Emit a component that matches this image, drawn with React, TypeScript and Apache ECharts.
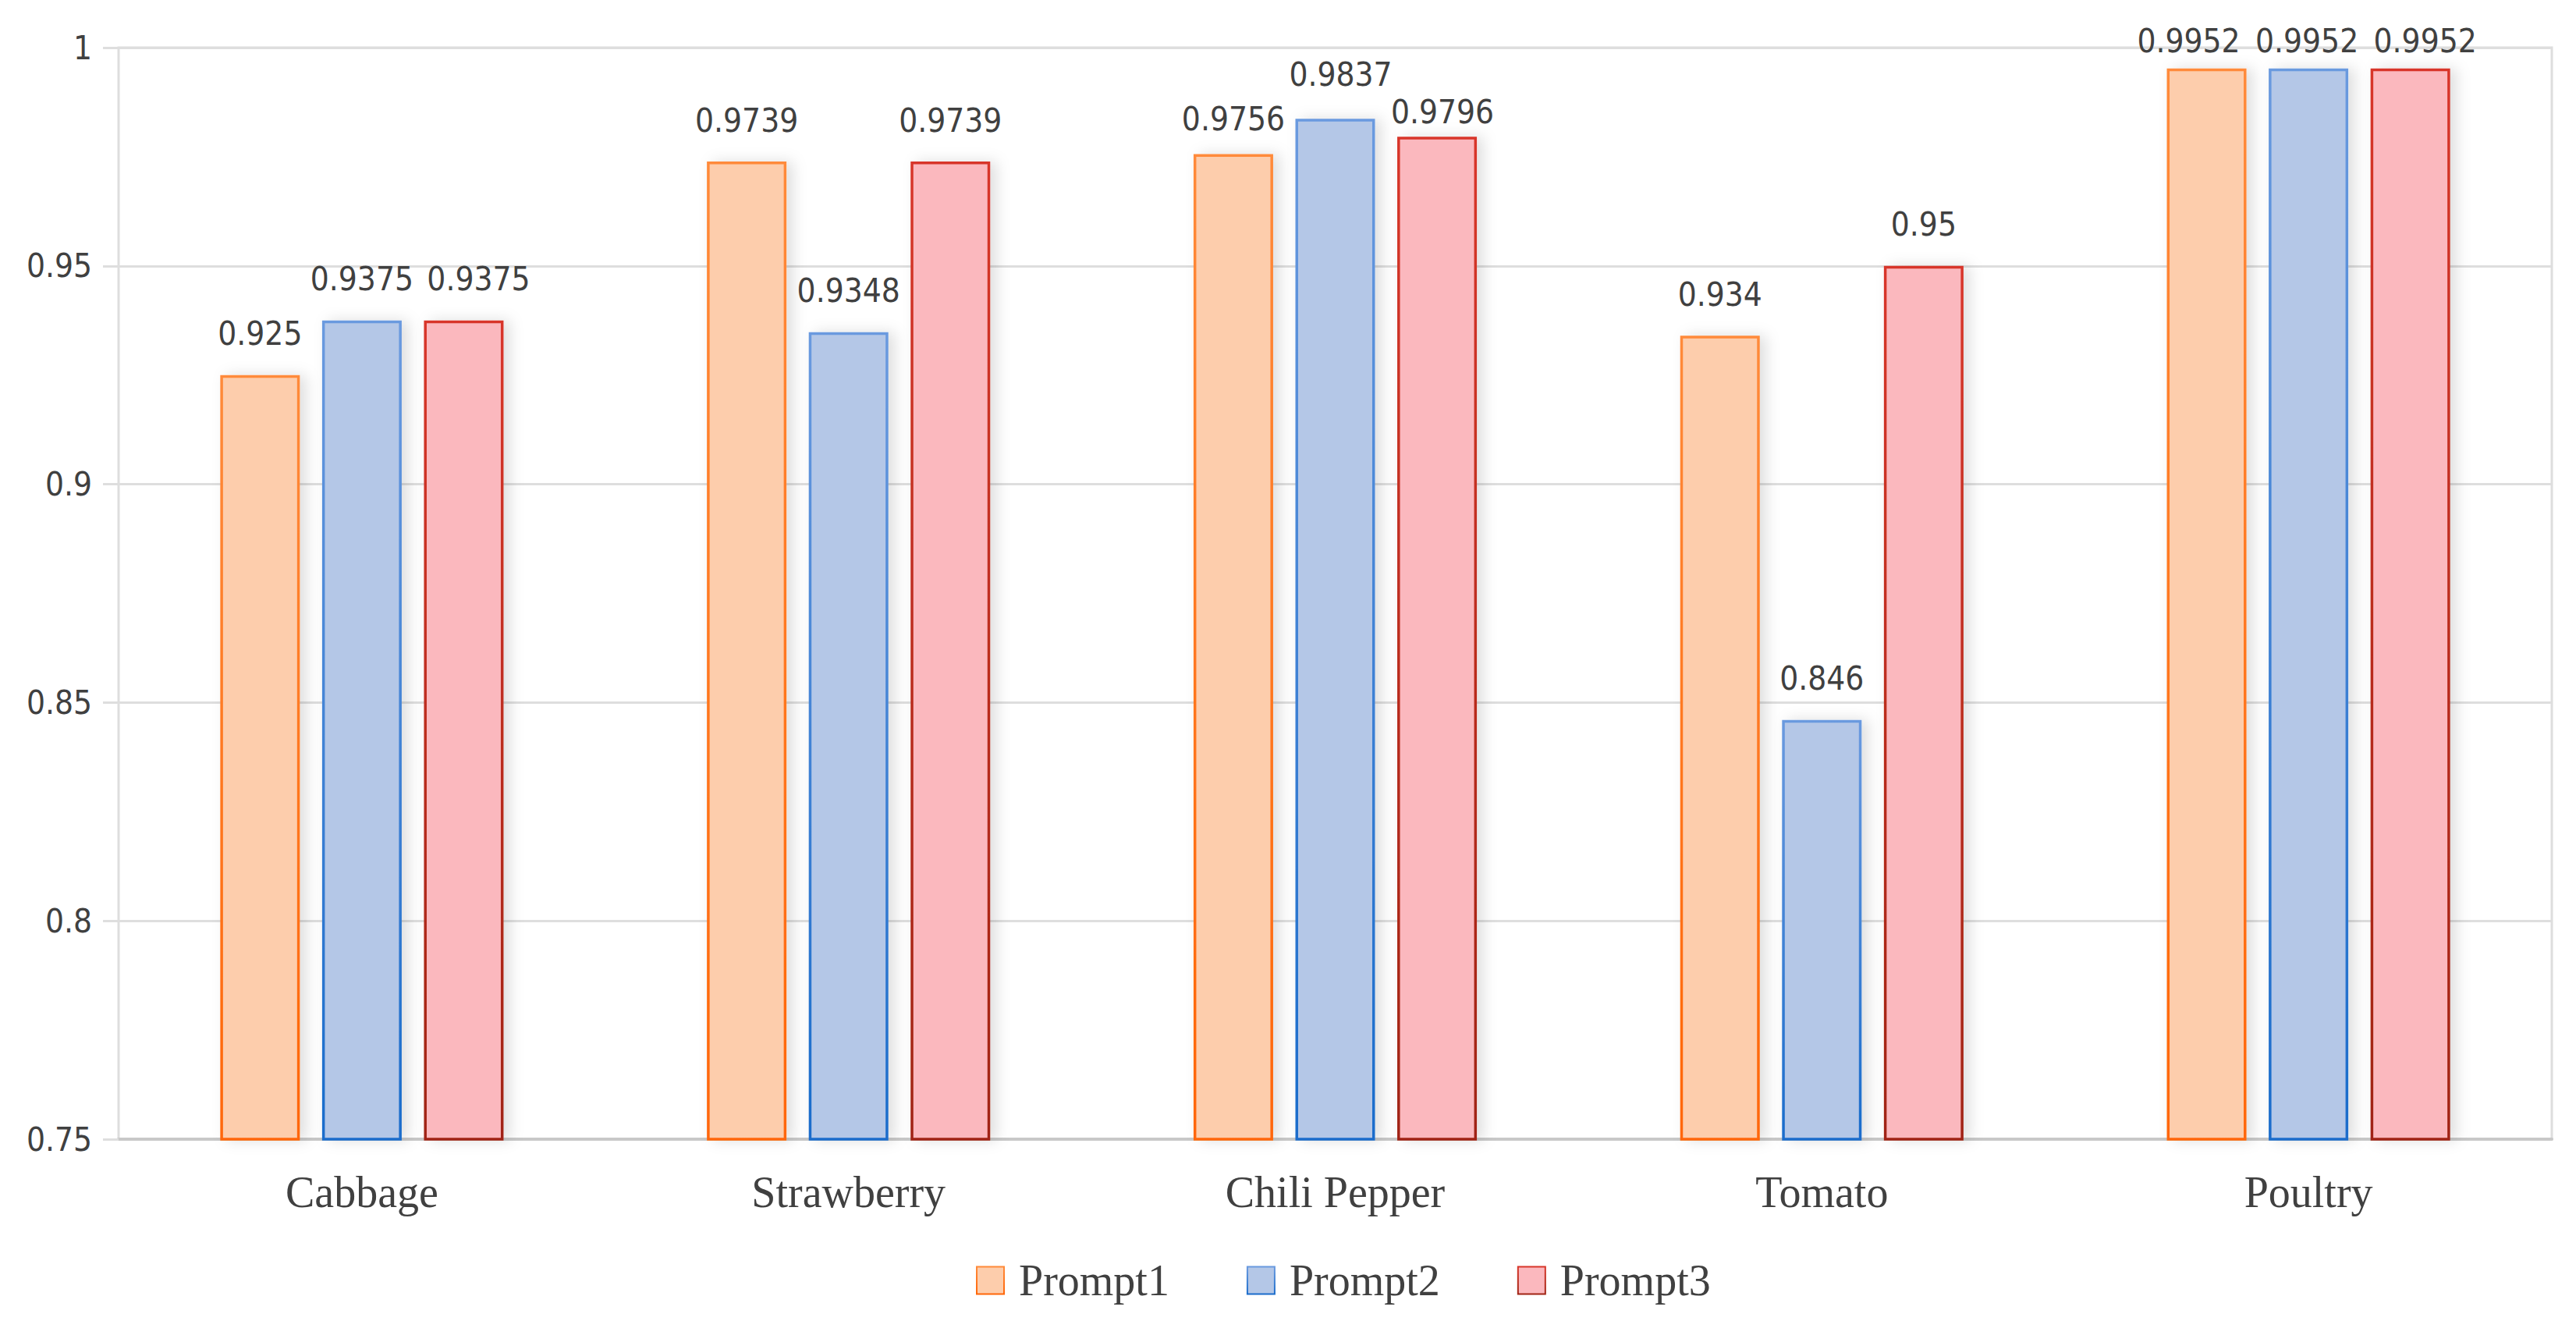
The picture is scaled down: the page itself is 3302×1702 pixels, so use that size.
import React, { useEffect, useRef } from "react";
import * as echarts from "echarts";

const categories = ["Cabbage", "Strawberry", "Chili Pepper", "Tomato", "Poultry"];
const seriesNames = ["Prompt1", "Prompt2", "Prompt3"];
const prompt1 = [0.925, 0.9739, 0.9756, 0.934, 0.9952];
const prompt2 = [0.9375, 0.9348, 0.9837, 0.846, 0.9952];
const prompt3 = [0.9375, 0.9739, 0.9796, 0.95, 0.9952];
const yMin = 0.75;
const yMax = 1;
const yStep = 0.05;

// nudges [dx, dy] of value labels (px), to keep neighbouring labels apart
const labelShift = [
  [[0, 0], [0, 0], [0, 8], [0, 0], [-23, 18]],
  [[0, 0], [0, 0], [7, -4], [0, 0], [-2, 18]],
  [[19, 0], [0, 0], [7, 21], [0, 0], [19, 18]],
];

const fills = ["#FDCDAC", "#B4C7E7", "#FBB8BE"];
const borderTop = ["#FF8A3A", "#6A9ADF", "#D8362A"];
const borderBottom = ["#FF6608", "#1A6CCB", "#A02414"];

const numFont = "'DejaVu Sans Condensed', 'Liberation Sans Narrow', 'DejaVu Sans', sans-serif";
const serifFont = "'Liberation Serif', 'DejaVu Serif', serif";

export default function App() {
  const ref = useRef<HTMLDivElement>(null);
  useEffect(() => {
    if (!ref.current) return;
    const chart = echarts.init(ref.current, null, { renderer: "svg" });
    const data = [prompt1, prompt2, prompt3];
    chart.setOption({
      animation: false,
      backgroundColor: "#ffffff",
      grid: {
        left: 152,
        right: 31,
        top: 61,
        bottom: 1702 - 1460,
        show: true,
        borderColor: "#DEDEDE",
        borderWidth: 3,
      },
      legend: {
        data: seriesNames,
        icon: "rect",
        left: 1246,
        top: 1608,
        itemWidth: 35,
        itemHeight: 35,
        itemGap: 99,
        textStyle: {
          fontFamily: serifFont,
          fontSize: 56,
          color: "#404040",
          padding: [0, 0, 0, 14],
        },
      },
      xAxis: {
        type: "category",
        data: categories,
        axisLine: { show: true, lineStyle: { color: "#C8C8C8", width: 4 } },
        axisTick: { show: false },
        axisLabel: {
          fontFamily: serifFont,
          fontSize: 56,
          color: "#404040",
          margin: 40,
        },
      },
      yAxis: {
        type: "value",
        min: yMin,
        max: yMax,
        interval: yStep,
        axisLine: { show: false },
        axisTick: { show: true, length: 20, lineStyle: { color: "#DEDEDE", width: 3 } },
        splitLine: { show: true, lineStyle: { color: "#DEDEDE", width: 3 } },
        axisLabel: {
          fontFamily: numFont,
          fontSize: 42,
          color: "#404040",
          margin: 34,
        },
      },
      series: seriesNames.map((name, i) => ({
        name,
        type: "bar",
        data: data[i].map((v, j) => ({
          value: v,
          label: { offset: labelShift[i][j] },
        })),
        barWidth: 102,
        barGap: "28%",
        itemStyle: {
          color: fills[i],
          borderColor: new echarts.graphic.LinearGradient(0, 0, 0, 1, [
            { offset: 0, color: borderTop[i] },
            { offset: 1, color: borderBottom[i] },
          ]),
          borderWidth: 3.5,
          shadowBlur: 18,
          shadowOffsetX: 8,
          shadowOffsetY: 0,
          shadowColor: "rgba(0,0,0,0.13)",
        },
        label: {
          show: true,
          position: "top",
          distance: 32,
          fontFamily: numFont,
          fontSize: 42,
          color: "#404040",
        },
      })),
    });
    return () => chart.dispose();
  }, []);
  return (
    <div
      ref={ref}
      style={{ position: "fixed", left: 0, top: 0, width: 3302, height: 1702, background: "#fff" }}
    />
  );
}
